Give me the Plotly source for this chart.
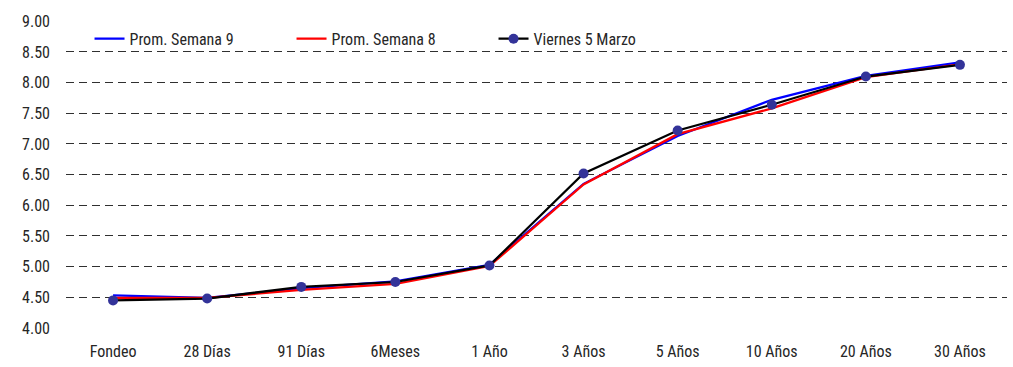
import plotly.graph_objects as go

categories = ["Fondeo", "28 Días", "91 Días", "6Meses", "1 Año", "3 Años",
              "5 Años", "10 Años", "20 Años", "30 Años"]
prom_semana_9 = [4.53, 4.49, 4.65, 4.76, 5.03, 6.35, 7.13, 7.72, 8.11, 8.33]
prom_semana_8 = [4.49, 4.49, 4.62, 4.72, 5.01, 6.34, 7.16, 7.58, 8.09, 8.30]
viernes_5_marzo = [4.45, 4.48, 4.67, 4.75, 5.02, 6.52, 7.22, 7.64, 8.10, 8.29]
y_ticks = [4.0, 4.5, 5.0, 5.5, 6.0, 6.5, 7.0, 7.5, 8.0, 8.5, 9.0]
y_tick_labels = [f"{v:.2f}" for v in y_ticks]

FONT = "Roboto Condensed, Roboto, sans-serif"
TEXT = "#262626"

fig = go.Figure()
fig.add_trace(go.Scatter(x=categories, y=prom_semana_9, mode="lines",
                         name="Prom. Semana 9", line=dict(color="#0000FF", width=2.25)))
fig.add_trace(go.Scatter(x=categories, y=prom_semana_8, mode="lines",
                         name="Prom. Semana 8", line=dict(color="#FF0000", width=2.25)))
fig.add_trace(go.Scatter(x=categories, y=viernes_5_marzo, mode="lines+markers",
                         name="Viernes 5 Marzo", line=dict(color="#000000", width=2.25),
                         marker=dict(color="#333399", size=10)))

fig.update_layout(
    width=1013, height=367,
    margin=dict(l=66, r=6, t=21, b=39),
    paper_bgcolor="white", plot_bgcolor="white",
    font=dict(family=FONT, size=16, color=TEXT),
    showlegend=True,
    legend=dict(orientation="h", x=0.025, y=0.942, xanchor="left", yanchor="middle",
                bgcolor="rgba(0,0,0,0)", entrywidth=157, entrywidthmode="pixels",
                font=dict(family=FONT, size=16, color=TEXT),
                tracegroupgap=0),
)
fig.update_xaxes(type="category", range=[-0.5, len(categories) - 0.5],
                 showgrid=False, showline=True, linecolor="white",
                 linewidth=2, ticks="", ticklabelstandoff=8, zeroline=False,
                 automargin=False)
fig.update_yaxes(range=[4.0, 9.005], tickvals=y_ticks, ticktext=y_tick_labels,
                 showgrid=True, gridcolor="#303030", gridwidth=1, griddash="8px,5px",
                 zeroline=False, showline=False, ticks="", ticklabelstandoff=15,
                 automargin=False)

fig.write_html("out.html", config={"displayModeBar": False},
               post_script="document.body.style.margin='0';document.body.style.overflow='hidden';")
